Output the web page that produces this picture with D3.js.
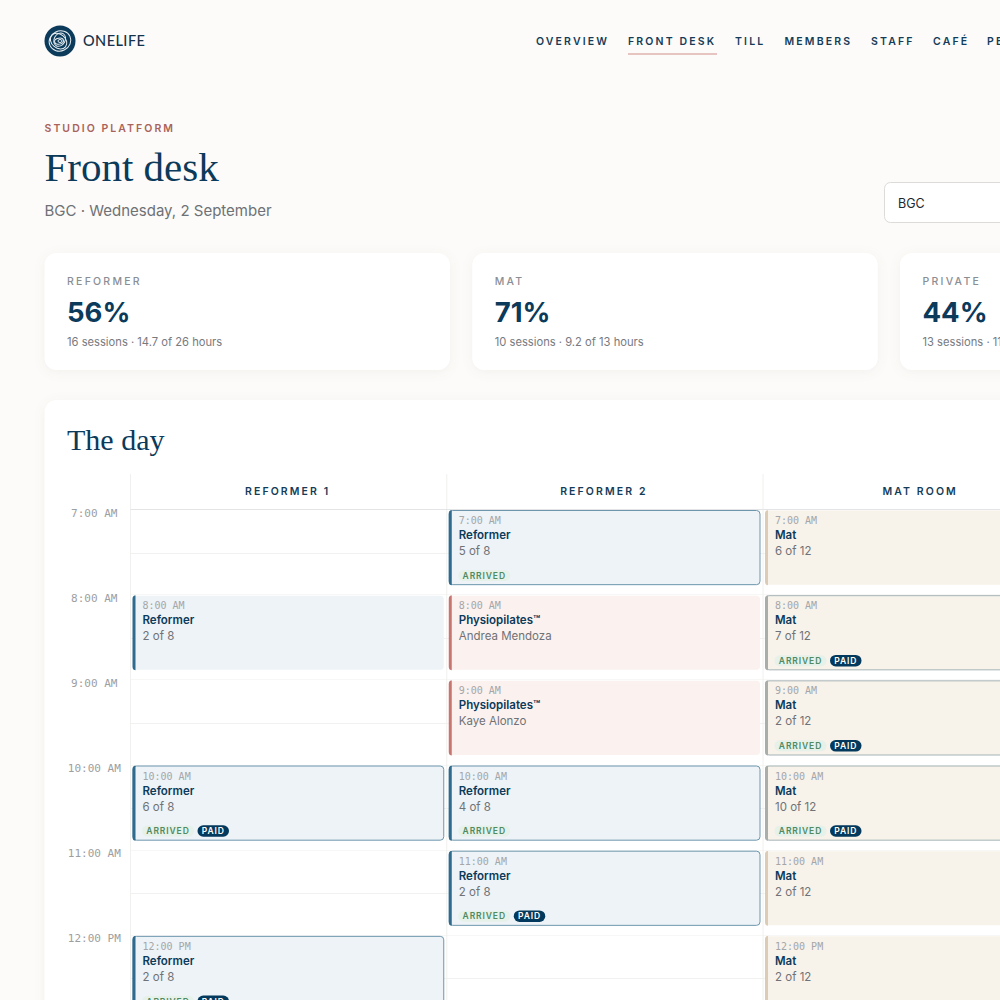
<!DOCTYPE html>
<html>
<head>
<meta charset="utf-8">
<title>Front desk</title>
<script src="https://cdn.jsdelivr.net/npm/d3@7"></script>
<style>
    html, body { margin: 0; padding: 0; background: #fcfbf9; overflow: hidden; }
    svg { display: block; }
    text { font-family: Inter, "Noto Sans", sans-serif; }
    .serif { font-family: "Liberation Serif", serif; fill: #0b3a5b; }
    .mono { font-family: "DejaVu Sans Mono", monospace; }
    .card { filter: drop-shadow(0 2px 6px rgba(60, 50, 40, 0.05)); }
</style>
</head>
<body>
<svg id="chart" width="1000" height="1000"></svg>
<script>
const navItems = ["OVERVIEW", "FRONT DESK", "TILL", "MEMBERS", "STAFF", "CAFÉ", "PEOPLE"];
const statLabels = ["REFORMER", "MAT", "PRIVATE"];
const statValues = ["56%", "71%", "44%"];
const statNotes = ["16 sessions · 14.7 of 26 hours", "10 sessions · 9.2 of 13 hours", "13 sessions · 11.4 of 26 hours"];

const rooms = ["REFORMER 1", "REFORMER 2", "MAT ROOM"];
const hours = [7, 8, 9, 10, 11, 12];
const hourLabels = ["7:00 AM", "8:00 AM", "9:00 AM", "10:00 AM", "11:00 AM", "12:00 PM"];

// room, hour, kind, second line, arrived, paid
const reformerOne = [
    ["REFORMER 1", 8, "Reformer", "2 of 8", false, false],
    ["REFORMER 1", 10, "Reformer", "6 of 8", true, true],
    ["REFORMER 1", 12, "Reformer", "2 of 8", true, true]
];
const reformerTwo = [
    ["REFORMER 2", 7, "Reformer", "5 of 8", true, false],
    ["REFORMER 2", 8, "Physiopilates™", "Andrea Mendoza", false, false],
    ["REFORMER 2", 9, "Physiopilates™", "Kaye Alonzo", false, false],
    ["REFORMER 2", 10, "Reformer", "4 of 8", true, false],
    ["REFORMER 2", 11, "Reformer", "2 of 8", true, true]
];
const matRoom = [
    ["MAT ROOM", 7, "Mat", "6 of 12", false, false],
    ["MAT ROOM", 8, "Mat", "7 of 12", true, true],
    ["MAT ROOM", 9, "Mat", "2 of 12", true, true],
    ["MAT ROOM", 10, "Mat", "10 of 12", true, true],
    ["MAT ROOM", 11, "Mat", "2 of 12", false, false],
    ["MAT ROOM", 12, "Mat", "2 of 12", false, false]
];

const navy = "#0b3a5b";
const rose = "#a9635b";
const grey = "#6e7176";

const kindColors = {
    "Reformer": { fill: "#edf3f7", bar: "#2f6b8f", line: "#6d96ad" },
    "Physiopilates™": { fill: "#fbf1ee", bar: "#c7766f", line: "#c7766f" },
    "Mat": { fill: "#f7f2ea", bar: "#dccbb5", line: "#a6b4b6" }
};

const svg = d3.select("#chart");

// header
const logo = svg.append("g").attr("transform", "translate(60,41)");
logo.append("circle").attr("r", 15.5).attr("fill", navy);
[[0, 0, 11, 10, -25], [-1, 1, 9, 7, 40], [1, -1, 7, 5.5, -60], [-1, 0, 4.5, 3, -10], [0, 0, 2, 1.5, 0]].forEach(e => {
    logo.append("ellipse")
        .attr("cx", e[0]).attr("cy", e[1]).attr("rx", e[2]).attr("ry", e[3])
        .attr("fill", "none").attr("stroke", "#e8eef2").attr("stroke-width", 1)
        .attr("transform", `rotate(${e[4]})`);
});
svg.append("text").attr("x", 83).attr("y", 46).text("ONELIFE")
    .style("font-family", "Lato").style("font-size", "14.5px").style("font-weight", 500)
    .style("letter-spacing", "0.45px").attr("fill", "#14324a");

const navX = [536, 628, 735, 784.5, 871, 933, 987];
svg.selectAll("text.nav").data(navItems).enter().append("text")
    .attr("class", "nav")
    .attr("x", (d, i) => navX[i]).attr("y", 44.7)
    .text(d => d)
    .style("font-size", "10.5px").style("font-weight", 600).style("letter-spacing", "2.15px")
    .attr("fill", "#143c58");
svg.append("line").attr("x1", 628).attr("x2", 717).attr("y1", 54).attr("y2", 54)
    .attr("stroke", "#cf8f88").attr("stroke-width", 1.2);

svg.append("text").attr("x", 44.5).attr("y", 131.5).text("STUDIO PLATFORM")
    .style("font-size", "10.5px").style("font-weight", 600).style("letter-spacing", "2.05px").attr("fill", rose);
svg.append("text").attr("class", "serif").attr("x", 44.5).attr("y", 181).text("Front desk")
    .style("font-size", "41px");
svg.append("text").attr("x", 44.5).attr("y", 216).text("BGC · Wednesday, 2 September")
    .style("font-size", "15px").attr("fill", grey);

// site picker
svg.append("rect").attr("x", 884.5).attr("y", 182.5).attr("width", 140).attr("height", 40).attr("rx", 6)
    .attr("fill", "#fff").attr("stroke", "#dcdbd8");
svg.append("text").attr("x", 898).attr("y", 207.5).text("BGC").style("font-size", "12.5px").attr("fill", "#22262a");

// stat cards
const statX = d3.scalePoint().domain(statLabels).range([44.5, 900]);
const stat = svg.selectAll("g.stat").data(statLabels).enter().append("g")
    .attr("class", "stat")
    .attr("transform", d => `translate(${statX(d)},253)`);
stat.append("rect").attr("class", "card").attr("width", 405.5).attr("height", 117).attr("rx", 12).attr("fill", "#fff");
stat.append("text").attr("x", 22.5).attr("y", 31.5).text(d => d)
    .style("font-size", "10.5px").style("font-weight", 500).style("letter-spacing", "2.25px").attr("fill", "#8a8e94");
stat.append("text").attr("x", 22.5).attr("y", 69).text((d, i) => statValues[i])
    .style("font-size", "27.5px").style("font-weight", 700).attr("fill", navy);
stat.append("text").attr("x", 22.5).attr("y", 93).text((d, i) => statNotes[i])
    .style("font-size", "11.2px").attr("fill", "#777a7f");

// the day card
svg.append("rect").attr("class", "card").attr("x", 44.5).attr("y", 400).attr("width", 1000).attr("height", 700)
    .attr("rx", 12).attr("fill", "#fff");
svg.append("text").attr("class", "serif").attr("x", 67).attr("y", 450).text("The day").style("font-size", "30px");

// schedule scales
const x = d3.scaleBand().domain(rooms).range([130.5, 130.5 + 316.25 * rooms.length]);
const y = d3.scaleLinear().domain([7, 13]).range([510, 510 + 85.17 * 6]);
const slotGap = 10;
const sideGap = 2;

// half hour and hour rules
const rules = d3.range(7.5, 13, 0.5);
svg.selectAll("line.rule").data(rules).enter().append("line")
    .attr("class", "rule")
    .attr("x1", 130.5).attr("x2", 1000)
    .attr("y1", d => Math.round(y(d)) + 0.5 - (d % 1 ? 0 : 1))
    .attr("y2", d => Math.round(y(d)) + 0.5 - (d % 1 ? 0 : 1))
    .attr("stroke", d => d % 1 ? "#f1f1f0" : "#f7f7f6");

// column edges
svg.selectAll("line.edge").data(rooms).enter().append("line")
    .attr("class", "edge")
    .attr("x1", d => x(d)).attr("x2", d => x(d))
    .attr("y1", 474).attr("y2", 1000)
    .attr("stroke", "#f0f0ef");
svg.append("line").attr("x1", 130.5).attr("x2", 1000).attr("y1", 509.5).attr("y2", 509.5)
    .attr("stroke", "#e3e4e6");

svg.selectAll("text.room").data(rooms).enter().append("text")
    .attr("class", "room")
    .attr("x", d => x(d) + x.bandwidth() / 2 - 1).attr("y", 495)
    .attr("text-anchor", "middle")
    .text(d => d)
    .style("font-size", "10.5px").style("font-weight", 600).style("letter-spacing", "2.1px")
    .attr("fill", "#143c58");

svg.selectAll("text.hour").data(hours).enter().append("text")
    .attr("class", "hour mono")
    .attr("x", 94.3).attr("y", d => y(d) + 6.5)
    .attr("text-anchor", "middle")
    .text((d, i) => hourLabels[i])
    .style("font-size", "11px").attr("fill", "#9c9ea1");

// left bar of a session, follows the rounded corners
function barPath(w, h, bar, r) {
    const p = d3.path();
    p.moveTo(bar, 0);
    p.lineTo(r, 0);
    p.arcTo(0, 0, 0, r, r);
    p.lineTo(0, h - r);
    p.arcTo(0, h, r, h, r);
    p.lineTo(bar, h);
    p.closePath();
    return p.toString();
}

const sessions = reformerOne.concat(reformerTwo, matRoom);
const session = svg.selectAll("g.session").data(sessions).enter().append("g")
    .attr("class", "session")
    .attr("transform", d => `translate(${x(d[0]) + sideGap},${y(d[1])})`);

const blockW = x.bandwidth() - sideGap * 2 - 0.5;
const blockH = y(8) - y(7) - slotGap;

session.append("rect")
    .attr("x", 0.5).attr("y", 0.5)
    .attr("width", blockW - 1).attr("height", blockH - 1)
    .attr("rx", 3.5)
    .attr("fill", d => kindColors[d[2]].fill)
    .attr("stroke", d => d[4] ? kindColors[d[2]].line : "none");
session.append("path")
    .attr("d", barPath(blockW, blockH, 3, 3.5))
    .attr("fill", d => d[4] && d[2] === "Mat" ? "#a9aeaa" : kindColors[d[2]].bar);

session.append("text").attr("class", "mono").attr("x", 10).attr("y", 14)
    .text(d => hourLabels[hours.indexOf(d[1])])
    .style("font-size", "10px").attr("fill", "#a4a6a9");
session.append("text").attr("x", 10).attr("y", 29)
    .text(d => d[2])
    .style("font-size", "11.5px").style("font-weight", 600).attr("fill", navy);
session.append("text").attr("x", 10).attr("y", 45)
    .text(d => d[3])
    .style("font-size", "11.5px").attr("fill", "#6f7276");

// status pills
const arrived = session.filter(d => d[4]).append("g").attr("transform", "translate(9.5,60)");
arrived.append("rect").attr("width", 52).attr("height", 11).attr("rx", 5.5).attr("fill", "#e6f1e9");
arrived.append("text").attr("x", 26).attr("y", 8.7).attr("text-anchor", "middle").text("ARRIVED")
    .style("font-size", "8.5px").style("font-weight", 600).style("letter-spacing", "0.9px").attr("fill", "#4f8a63");

const paid = session.filter(d => d[5]).append("g").attr("transform", "translate(65,60)");
paid.append("rect").attr("width", 31.5).attr("height", 11.5).attr("rx", 5.75).attr("y", -0.25).attr("fill", "#03395c");
paid.append("text").attr("x", 15.75).attr("y", 8.7).attr("text-anchor", "middle").text("PAID")
    .style("font-size", "8.5px").style("font-weight", 600).style("letter-spacing", "0.9px").attr("fill", "#fff");
</script>
</body>
</html>
